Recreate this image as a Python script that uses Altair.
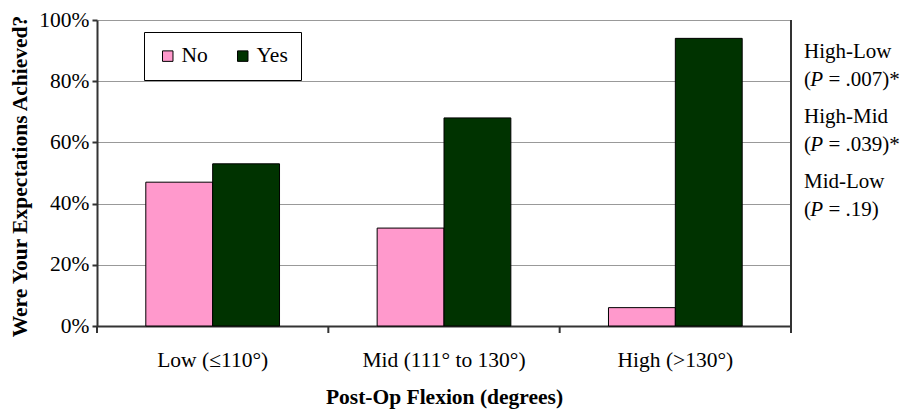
import altair as alt
import pandas as pd

categories = ["Low (≤110°)", "Mid (111° to 130°)", "High (>130°)"]
responses = ["No", "Yes"]
no_values = [0.47, 0.32, 0.06]
yes_values = [0.53, 0.68, 0.94]
colors = ["#FF99CC", "#003300"]
comparisons = ["High-Low", "High-Mid", "Mid-Low"]
p_values = ["= .007)*", "= .039)*", "= .19)"]
y_ticks = [0, 0.2, 0.4, 0.6, 0.8, 1.0]

W, H = 694, 306
FONT = "Liberation Serif"
FS = 21.5
FA = 21

rows = []
for c, n, y in zip(categories, no_values, yes_values):
    rows.append({"Category": c, "Response": "No", "Value": n})
    rows.append({"Category": c, "Response": "Yes", "Value": y})
df = pd.DataFrame(rows)

bars = alt.Chart(df).mark_bar(stroke="black", strokeWidth=1).encode(
    x=alt.X(
        "Category:N", sort=categories,
        scale=alt.Scale(paddingInner=0, paddingOuter=0),
        axis=alt.Axis(
            title="Post-Op Flexion (degrees)", labelAngle=0, ticks=False, tickSize=0,
            labelPadding=23, grid=False, domainColor="#333", domainWidth=2,
            labelFont=FONT, labelFontSize=FS, labelColor="black",
            titleFont=FONT, titleFontSize=FS, titleFontWeight="bold", titleColor="black",
            titleX=W / 2, titleY=71, titleBaseline="middle", titleAlign="center",
        ),
    ),
    xOffset=alt.XOffset("Response:N", sort=responses,
                        scale=alt.Scale(paddingInner=0, paddingOuter=0.73)),
    y=alt.Y(
        "Value:Q", scale=alt.Scale(domain=[0, 1], nice=False),
        axis=alt.Axis(
            title="Were Your Expectations Achieved?", format=".0%", values=y_ticks,
            labelFont=FONT, labelFontSize=FS, labelColor="black", labelPadding=3,
            tickColor="#333", tickSize=5, tickWidth=2,
            domainColor="#333", domainWidth=2, gridColor="#999", gridWidth=1,
            titleFont=FONT, titleFontSize=FS, titleFontWeight="bold", titleColor="black",
            titleX=-77, titleY=H / 2 + 3, titleAngle=270, titleAlign="center",
            titleBaseline="middle",
        ),
    ),
    color=alt.Color(
        "Response:N", sort=responses,
        scale=alt.Scale(domain=responses, range=colors),
        legend=alt.Legend(
            title=None, orient="none", legendX=47, legendY=12, direction="horizontal",
            strokeColor="black", fillColor="white", padding=13, symbolType="square",
            symbolSize=110, symbolStrokeColor="black", symbolStrokeWidth=1,
            labelFont=FONT, labelFontSize=FS, labelColor="black", columnPadding=24,
            labelOffset=3, cornerRadius=0,
        ),
    ),
)

bounds = pd.DataFrame({"b": [0, 1, 2, 3]})
xq = alt.X("b:Q", scale=alt.Scale(domain=[0, 3], nice=False, zero=False), axis=None)
ticks = alt.Chart(bounds).mark_rule(color="#333", strokeWidth=2).encode(
    x=xq, y=alt.value(H), y2=alt.value(H + 7)
)
border = alt.Chart(pd.DataFrame({"b": [3]})).mark_rule(color="#333", strokeWidth=2).encode(
    x=xq, y=alt.value(0), y2=alt.value(H)
)

layers = [bars, ticks, border]
x0 = W + 13
for i, (comp, pv) in enumerate(zip(comparisons, p_values)):
    y0 = 32 + i * 65
    base = dict(font=FONT, fontSize=FA, color="black", align="left", baseline="middle")
    layers.append(alt.Chart(pd.DataFrame({"t": [comp]})).mark_text(**base).encode(
        text="t:N", x=alt.value(x0), y=alt.value(y0)))
    layers.append(alt.Chart(pd.DataFrame({"t": ["("]})).mark_text(**base).encode(
        text="t:N", x=alt.value(x0), y=alt.value(y0 + 28)))
    layers.append(alt.Chart(pd.DataFrame({"t": ["P"]})).mark_text(fontStyle="italic", **base).encode(
        text="t:N", x=alt.value(x0 + 6.3), y=alt.value(y0 + 28)))
    layers.append(alt.Chart(pd.DataFrame({"t": [pv]})).mark_text(**base).encode(
        text="t:N", x=alt.value(x0 + 24.5), y=alt.value(y0 + 28)))

chart = alt.layer(*layers).resolve_scale(x="independent").properties(
    width=W, height=H,
    padding={"left": 97, "top": 20, "right": 111, "bottom": 83},
    autosize=alt.AutoSizeParams(type="none"),
).configure_view(stroke=None)

chart.save("out.html", embed_options={"renderer": "svg", "actions": False})
